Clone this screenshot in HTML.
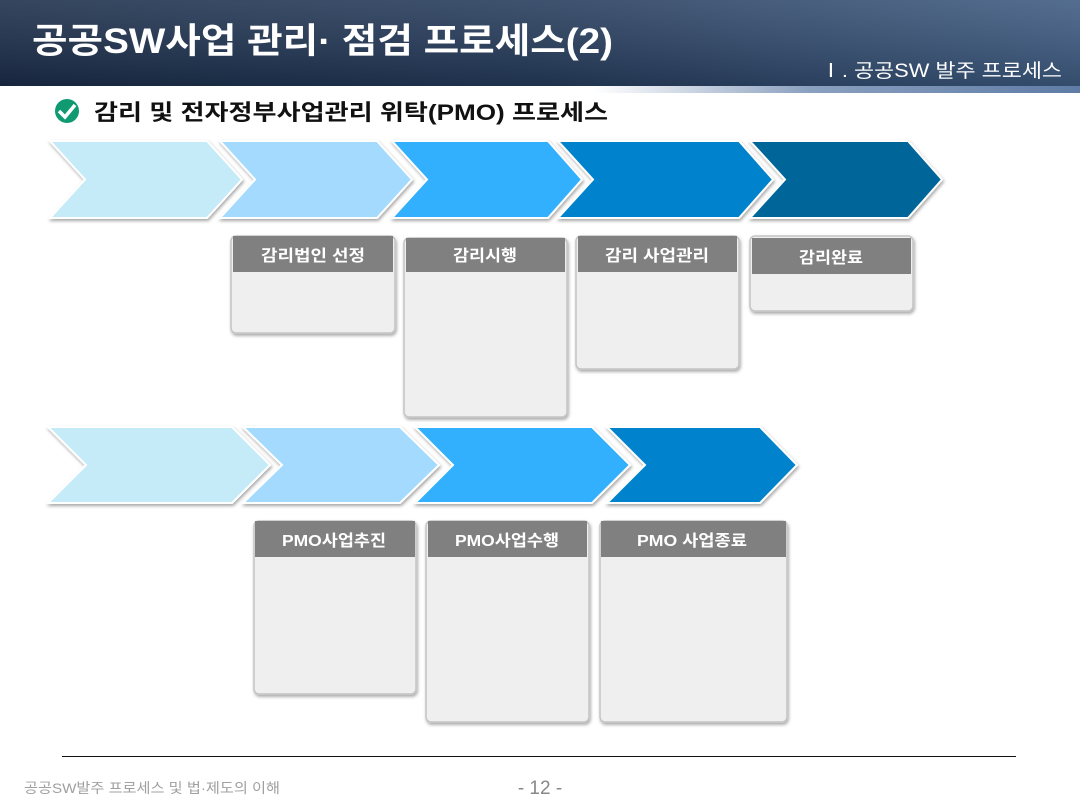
<!DOCTYPE html>
<html><head><meta charset="utf-8"><style>
body{margin:0;width:1080px;height:810px;overflow:hidden;background:#fff;font-family:"Liberation Sans","Noto Sans CJK KR",sans-serif}
</style></head><body>
<svg width="1080" height="810" xmlns="http://www.w3.org/2000/svg" style="display:block">
<defs>
<linearGradient id="hd" x1="0" y1="0" x2="1" y2="0">
<stop offset="0" stop-color="#1a2c48"/><stop offset="0.5" stop-color="#243a5a"/><stop offset="1" stop-color="#3d5a80"/>
</linearGradient>
<linearGradient id="hv" x1="0" y1="0" x2="0" y2="1">
<stop offset="0" stop-color="#ffffff" stop-opacity="0.12"/><stop offset="1" stop-color="#000000" stop-opacity="0.15"/>
</linearGradient>
<linearGradient id="band" x1="0" y1="0" x2="1" y2="0">
<stop offset="0" stop-color="#ffffff"/><stop offset="0.55" stop-color="#ffffff"/><stop offset="0.75" stop-color="#8aa0bf"/><stop offset="1" stop-color="#5f7ca6"/>
</linearGradient>
<filter id="sh" x="-10%" y="-10%" width="130%" height="130%"><feDropShadow dx="1" dy="2" stdDeviation="1.5" flood-color="#000" flood-opacity="0.35"/></filter>
</defs>
<rect x="0" y="0" width="1080" height="86" fill="url(#hd)"/>
<rect x="0" y="0" width="1080" height="86" fill="url(#hv)"/>
<rect x="0" y="86" width="1080" height="7" fill="url(#band)"/>
<text x="32" y="53" fill="#fff" font-size="35" font-weight="bold" textLength="581" lengthAdjust="spacingAndGlyphs">공공SW사업 관리· 점검 프로세스(2)</text>
<text x="820" y="77" fill="#fff" font-size="19" textLength="242" lengthAdjust="spacingAndGlyphs">Ⅰ. 공공SW 발주 프로세스</text>
<circle cx="67" cy="111" r="12" fill="#0f9a72"/>
<path d="M59 111 l6 6 l10 -12" stroke="#fff" stroke-width="3.5" fill="none"/>
<text x="94" y="120" fill="#111" font-size="22" font-weight="bold" textLength="514" lengthAdjust="spacingAndGlyphs">감리 및 전자정부사업관리 위탁(PMO) 프로세스</text>

<g stroke="#fff" stroke-width="2" filter="url(#sh)">
<path d="M50 141 L207 141 L242 179.5 L207 218 L50 218 L85 179.5Z" fill="#c5ebf9"/>
<path d="M220 141 L377 141 L412 179.5 L377 218 L220 218 L255 179.5Z" fill="#a3dafd"/>
<path d="M392 141 L548 141 L582 179.5 L548 218 L392 218 L427 179.5Z" fill="#33b0fd"/>
<path d="M558 141 L739 141 L773 179.5 L739 218 L558 218 L593 179.5Z" fill="#0082cc"/>
<path d="M750 141 L908 141 L942 179.5 L908 218 L750 218 L785 179.5Z" fill="#006699"/>

<path d="M48 427 L232 427 L270 465 L232 503 L48 503 L86 465Z" fill="#c5ebf9"/>
<path d="M243 427 L400 427 L439 465 L400 503 L243 503 L282 465Z" fill="#a3dafd"/>
<path d="M415 427 L592 427 L630 465 L592 503 L415 503 L453 465Z" fill="#33b0fd"/>
<path d="M607 427 L760 427 L797 465 L760 503 L607 503 L645 465Z" fill="#0082cc"/>
</g>

<g fill="#efefef" stroke="#c4c4c4" stroke-width="1.5" filter="url(#sh)">
<rect x="231" y="236" width="164" height="97" rx="5"/>
<rect x="404" y="238" width="163" height="179" rx="5"/>
<rect x="576" y="236" width="163" height="133" rx="5"/>
<rect x="750" y="236" width="163" height="75" rx="5"/>
<rect x="254" y="521" width="162" height="173" rx="5"/>
<rect x="426" y="521" width="163" height="201" rx="5"/>
<rect x="600" y="521" width="187" height="201" rx="5"/>
</g>
<g fill="#808080">
<rect x="233" y="236" width="160" height="36"/>
<rect x="406" y="238" width="159" height="34"/>
<rect x="578" y="236" width="159" height="36"/>
<rect x="752" y="238" width="159" height="36"/>
<rect x="255" y="521" width="160" height="36"/>
<rect x="428" y="521" width="159" height="36"/>
<rect x="601" y="521" width="185" height="36"/>
</g>
<g fill="#fff" font-size="16" font-weight="bold" text-anchor="middle">
<text x="313" y="261" textLength="104" lengthAdjust="spacingAndGlyphs">감리법인 선정</text>
<text x="485" y="261" textLength="64" lengthAdjust="spacingAndGlyphs">감리시행</text>
<text x="657" y="261" textLength="104" lengthAdjust="spacingAndGlyphs">감리 사업관리</text>
<text x="831" y="263" textLength="64" lengthAdjust="spacingAndGlyphs">감리완료</text>
<text x="334" y="546" textLength="104" lengthAdjust="spacingAndGlyphs">PMO사업추진</text>
<text x="507" y="546" textLength="104" lengthAdjust="spacingAndGlyphs">PMO사업수행</text>
<text x="692" y="546" textLength="110" lengthAdjust="spacingAndGlyphs">PMO 사업종료</text>
</g>

<line x1="62" y1="756.5" x2="1016" y2="756.5" stroke="#111" stroke-width="1"/>
<text x="24" y="793" fill="#a0a0a0" font-size="14" textLength="256" lengthAdjust="spacingAndGlyphs">공공SW발주 프로세스 및 법·제도의 이해</text>
<text x="540" y="794" fill="#888" font-size="19" text-anchor="middle">- 12 -</text>
</svg>
</body></html>
